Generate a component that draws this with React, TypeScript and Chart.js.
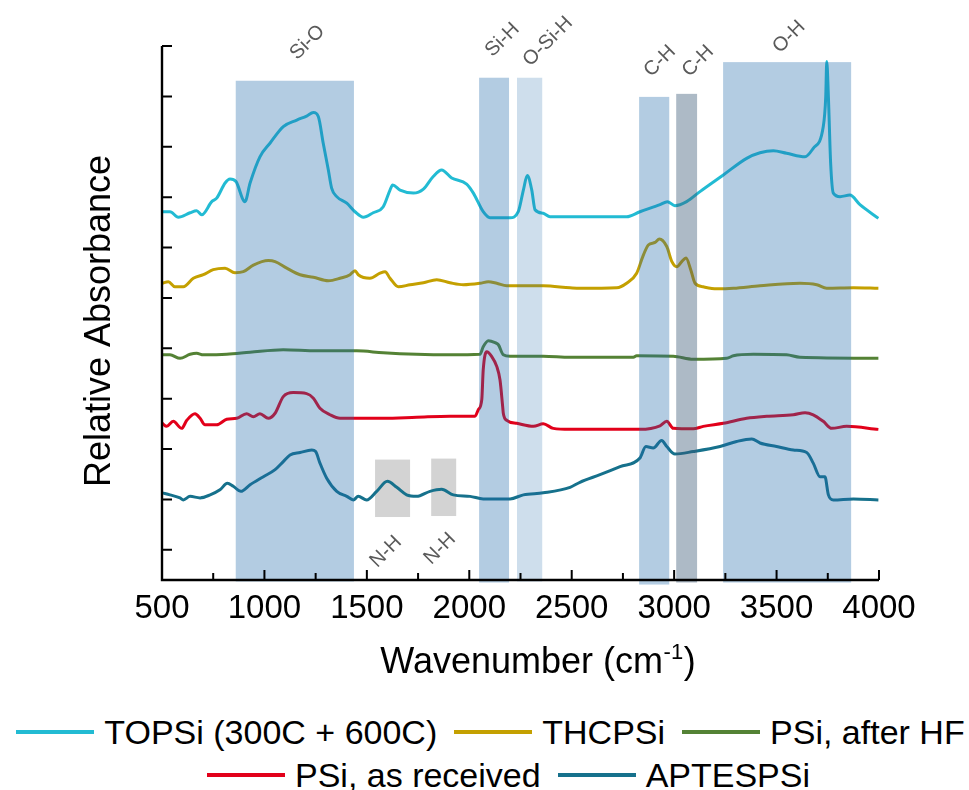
import React, { useEffect, useRef } from "react";
import { Chart, registerables } from "chart.js";

Chart.register(...registerables);

const FONT = '"Liberation Sans", Arial, sans-serif';

// ---- series ----
const seriesLabels = ["TOPSi (300C + 600C)", "THCPSi", "PSi, after HF", "PSi, as received", "APTESPSi"];
const seriesColors = ["#22BBD3", "#C4A000", "#548235", "#E2001A", "#16718C"];

const topsiWn = [501,539,580,637,669,694,743,767,808,832,861,905,930,978,1027,1092,1158,1206,1239,1263,1287,1312,1328,1353,1402,1442,1483,1531,1580,1613,1626,1662,1727,1776,1824,1865,1914,1987,2020,2068,2101,2199,2239,2264,2283,2305,2321,2361,2394,2492,2768,2833,2931,2967,3004,3061,3126,3240,3354,3419,3484,3549,3639,3679,3728,3740,3745,3753,3764,3777,3810,3858,3907,3997];
const topsiVal = [6.71,6.71,6.60,6.69,6.73,6.65,6.91,6.98,7.28,7.36,7.31,6.91,7.28,7.80,8.07,8.40,8.53,8.61,8.68,8.60,8.07,7.54,7.18,7.01,6.88,6.71,6.60,6.69,6.81,7.14,7.24,7.14,7.08,7.16,7.41,7.54,7.38,7.26,7.08,6.71,6.59,6.59,6.71,7.14,7.43,7.14,6.75,6.68,6.61,6.61,6.61,6.71,6.85,6.91,6.83,6.91,7.11,7.44,7.77,7.88,7.92,7.87,7.80,7.97,8.40,8.99,9.69,8.99,7.67,7.08,7.01,7.04,6.85,6.58];

const thcpsiWn = [501,531,563,604,653,702,750,808,856,897,946,1019,1052,1109,1174,1239,1312,1369,1418,1442,1458,1515,1564,1589,1613,1654,1711,1776,1841,1906,1971,2052,2093,2134,2183,2361,2492,2540,2720,2768,2817,2847,2874,2907,2928,2964,2989,3013,3037,3058,3081,3102,3142,3208,3289,3419,3614,3696,3745,3875,3997];
const thcpsiVal = [5.29,5.32,5.22,5.22,5.39,5.46,5.56,5.59,5.50,5.52,5.65,5.74,5.72,5.59,5.46,5.41,5.34,5.39,5.46,5.54,5.46,5.39,5.49,5.52,5.39,5.22,5.26,5.30,5.36,5.30,5.26,5.29,5.32,5.29,5.24,5.24,5.20,5.19,5.20,5.29,5.49,5.82,6.05,6.10,6.17,6.02,5.72,5.62,5.72,5.79,5.56,5.29,5.22,5.18,5.19,5.24,5.29,5.26,5.19,5.20,5.19];

const hfWn = [501,539,588,637,669,702,816,930,1092,1255,1450,1580,1743,1906,2052,2068,2093,2126,2142,2166,2199,2361,2492,2801,2817,2996,3093,3257,3289,3387,3549,3614,3997];
const hfVal = [3.87,3.87,3.80,3.88,3.90,3.87,3.88,3.92,3.97,3.95,3.95,3.91,3.88,3.87,3.88,4.03,4.15,4.11,4.07,3.87,3.84,3.84,3.82,3.82,3.85,3.84,3.78,3.80,3.85,3.88,3.87,3.82,3.80];

const asRecWn = [501,523,555,596,621,661,686,710,767,816,865,913,946,978,1019,1052,1092,1141,1206,1239,1271,1320,1369,1418,1580,1743,1906,2028,2044,2061,2068,2085,2109,2134,2150,2163,2166,2183,2232,2313,2361,2410,2492,2833,2931,2964,2996,3093,3142,3240,3354,3452,3582,3639,3679,3728,3769,3842,3997];
const asRecVal = [2.51,2.45,2.55,2.41,2.57,2.70,2.61,2.48,2.48,2.59,2.61,2.70,2.64,2.70,2.61,2.71,3.04,3.12,3.10,3.01,2.81,2.68,2.61,2.61,2.61,2.63,2.65,2.65,2.78,2.98,3.57,3.93,3.84,3.64,3.37,2.84,2.71,2.57,2.51,2.45,2.50,2.41,2.39,2.39,2.46,2.55,2.41,2.40,2.45,2.51,2.61,2.65,2.68,2.72,2.68,2.55,2.41,2.45,2.39];

const aptesWn = [501,539,588,604,637,686,735,783,819,848,885,930,995,1052,1092,1125,1174,1231,1250,1271,1304,1353,1402,1434,1458,1499,1548,1600,1646,1694,1743,1808,1865,1922,2004,2068,2199,2264,2361,2492,2540,2638,2736,2833,2862,2898,2939,2964,3004,3093,3224,3305,3379,3419,3500,3582,3647,3679,3712,3736,3753,3777,3875,3997];
const aptesVal = [1.13,1.09,1.03,0.99,1.06,1.03,1.09,1.19,1.32,1.26,1.16,1.29,1.45,1.59,1.75,1.88,1.93,1.98,1.95,1.72,1.42,1.16,1.06,0.99,1.06,0.99,1.16,1.36,1.24,1.09,1.06,1.16,1.20,1.09,1.06,1.01,1.01,1.09,1.13,1.24,1.34,1.49,1.65,1.82,2.05,2.02,2.17,2.05,1.90,1.95,2.05,2.15,2.20,2.12,2.05,1.98,1.93,1.72,1.45,1.45,1.09,0.99,1.01,0.99];

const seriesWn = [topsiWn, thcpsiWn, hfWn, asRecWn, aptesWn];
const seriesVal = [topsiVal, thcpsiVal, hfVal, asRecVal, aptesVal];

// ---- shaded bands (wavenumber ranges, value ranges) ----
const bandStart = [860, 2048, 2233, 2829, 3010, 3239];
const bandEnd = [1437, 2194, 2356, 2976, 3112, 3864];
const bandTop = [9.31, 9.37, 9.37, 8.99, 9.05, 9.68];
const bandBottom = [-0.63, -0.65, -0.63, -0.69, -0.65, -0.65];
const bandFill = [
  "rgba(31,105,170,0.34)",
  "rgba(31,105,170,0.34)",
  "rgba(31,105,170,0.22)",
  "rgba(31,105,170,0.34)",
  "rgba(60,90,120,0.42)",
  "rgba(31,105,170,0.34)",
];

const nhStart = [1540, 1814];
const nhEnd = [1711, 1936];
const nhTop = [1.79, 1.81];
const nhBottom = [0.65, 0.67];

// ---- annotation labels ----
const annoText = ["Si-O", "Si-H", "O-Si-H", "C-H", "C-H", "O-H", "N-H", "N-H"];
const annoX = [1210, 2162, 2384, 2931, 3117, 3561, 1593, 1857];
const annoY = [10.07, 10.12, 10.09, 9.70, 9.70, 10.18, -0.04, 0.02];

// ---- axes ----
const xMajorTicks = [500, 1000, 1500, 2000, 2500, 3000, 3500, 4000];
const xMinorTicks = [750, 1250, 1750, 2250, 2750, 3250, 3750];
const yTicks = [0, 1, 2, 3, 4, 5, 6, 7, 8, 9, 10];
const xMin = 500, xMax = 4000, yMin = -0.6, yMax = 10;

const legendRows = [[0, 1, 2], [3, 4]];

const overlayPlugin = {
  id: "overlay",
  beforeDatasetsDraw(chart: any) {
    const { ctx, scales } = chart;
    const x = scales.x, y = scales.y;
    ctx.save();
    ctx.fillStyle = "#d3d3d3";
    nhStart.forEach((s, i) => {
      const x0 = x.getPixelForValue(s), x1 = x.getPixelForValue(nhEnd[i]);
      const y0 = y.getPixelForValue(nhTop[i]), y1 = y.getPixelForValue(nhBottom[i]);
      ctx.fillRect(x0, y0, x1 - x0, y1 - y0);
    });
    ctx.restore();
  },
  afterDatasetsDraw(chart: any) {
    const { ctx, scales } = chart;
    const x = scales.x, y = scales.y;
    ctx.save();
    bandStart.forEach((s, i) => {
      const x0 = x.getPixelForValue(s), x1 = x.getPixelForValue(bandEnd[i]);
      const y0 = y.getPixelForValue(bandTop[i]), y1 = y.getPixelForValue(bandBottom[i]);
      ctx.fillStyle = bandFill[i];
      ctx.fillRect(x0, y0, x1 - x0, y1 - y0);
    });
    ctx.restore();
  },
  afterDraw(chart: any) {
    const { ctx, chartArea: ca, scales } = chart;
    const x = scales.x, y = scales.y;
    ctx.save();
    ctx.strokeStyle = "#000";
    ctx.lineWidth = 2.4;
    ctx.beginPath();
    ctx.moveTo(ca.left, ca.top);
    ctx.lineTo(ca.left, ca.bottom);
    ctx.lineTo(ca.right, ca.bottom);
    ctx.stroke();
    ctx.lineWidth = 2;
    ctx.beginPath();
    yTicks.forEach((v) => {
      const py = y.getPixelForValue(v);
      ctx.moveTo(ca.left, py);
      ctx.lineTo(ca.left + 10, py);
    });
    xMajorTicks.forEach((v) => {
      const px = x.getPixelForValue(v);
      ctx.moveTo(px, ca.bottom);
      ctx.lineTo(px, ca.bottom - 10);
    });
    xMinorTicks.forEach((v) => {
      const px = x.getPixelForValue(v);
      ctx.moveTo(px, ca.bottom);
      ctx.lineTo(px, ca.bottom - 7);
    });
    ctx.stroke();

    // tick labels
    ctx.fillStyle = "#000";
    ctx.font = `33px ${FONT}`;
    ctx.textAlign = "center";
    ctx.textBaseline = "alphabetic";
    xMajorTicks.forEach((v) => {
      ctx.fillText(String(v), x.getPixelForValue(v), ca.bottom + 38);
    });

    // x title with superscript
    const main = "Wavenumber (cm";
    const sup = "-1";
    const close = ")";
    ctx.textAlign = "left";
    ctx.font = `36px ${FONT}`;
    const w1 = ctx.measureText(main).width;
    const w3 = ctx.measureText(close).width;
    ctx.font = `22px ${FONT}`;
    const w2 = ctx.measureText(sup).width;
    const cx = (ca.left + ca.right) / 2 + 17;
    const sx = cx - (w1 + w2 + w3) / 2;
    const by = ca.bottom + 93;
    ctx.font = `36px ${FONT}`;
    ctx.fillText(main, sx, by);
    ctx.fillText(close, sx + w1 + w2 + 1, by);
    ctx.font = `22px ${FONT}`;
    ctx.fillText(sup, sx + w1 + 0.5, by - 14);

    // y title
    ctx.save();
    ctx.font = `36px ${FONT}`;
    ctx.textAlign = "center";
    ctx.translate(ca.left - 52, (ca.top + ca.bottom) / 2 + 8);
    ctx.rotate(-Math.PI / 2);
    ctx.fillText("Relative Absorbance", 0, 0);
    ctx.restore();

    // annotations
    ctx.fillStyle = "#5a5a5a";
    ctx.font = `20px ${FONT}`;
    ctx.textAlign = "center";
    ctx.textBaseline = "middle";
    annoText.forEach((t, i) => {
      ctx.save();
      ctx.translate(x.getPixelForValue(annoX[i]), y.getPixelForValue(annoY[i]));
      ctx.rotate(-Math.PI / 4);
      ctx.fillText(t, 0, 0);
      ctx.restore();
    });
    ctx.restore();
  },
};

export default function App() {
  const canvasRef = useRef<HTMLCanvasElement | null>(null);

  useEffect(() => {
    if (!canvasRef.current) return;
    const chart = new Chart(canvasRef.current, {
      type: "line",
      data: {
        datasets: seriesLabels.map((label, i) => ({
          label,
          data: seriesWn[i].map((w, j) => ({ x: w, y: seriesVal[i][j] })),
          borderColor: seriesColors[i],
          backgroundColor: seriesColors[i],
          borderWidth: 3,
          pointRadius: 0,
          fill: false,
          cubicInterpolationMode: "monotone",
        })),
      },
      options: {
        animation: false,
        responsive: false,
        devicePixelRatio: 1,
        layout: { padding: { left: 162, right: 90, top: 46, bottom: 120 } },
        scales: {
          x: { type: "linear", min: xMin, max: xMax, display: false },
          y: { type: "linear", min: yMin, max: yMax, display: false },
        },
        plugins: { legend: { display: false }, tooltip: { enabled: false } },
      },
      plugins: [overlayPlugin],
    } as any);
    return () => chart.destroy();
  }, []);

  return (
    <div
      style={{
        position: "absolute",
        left: 0,
        top: 0,
        width: 969,
        height: 790,
        overflow: "hidden",
        background: "#fff",
        fontFamily: FONT,
      }}
    >
      <canvas ref={canvasRef} width={969} height={700} style={{ display: "block" }} />
      {legendRows.map((row, r) => (
        <div
          key={r}
          style={{
            position: "absolute",
            left: r === 0 ? 6 : 24,
            top: r === 0 ? 713 : 756,
            width: 969,
            height: 38,
            display: "flex",
            justifyContent: "center",
            alignItems: "center",
            lineHeight: "38px",
            fontSize: 34,
            color: "#000",
            whiteSpace: "nowrap",
          }}
        >
          {row.map((idx, k) => (
            <div
              key={idx}
              style={{ display: "flex", alignItems: "center", marginLeft: k === 0 ? 0 : 17 }}
            >
              <span
                style={{
                  display: "inline-block",
                  width: 78,
                  height: 4,
                  background: seriesColors[idx],
                  marginRight: 10,
                }}
              />
              <span>{seriesLabels[idx]}</span>
            </div>
          ))}
        </div>
      ))}
    </div>
  );
}
